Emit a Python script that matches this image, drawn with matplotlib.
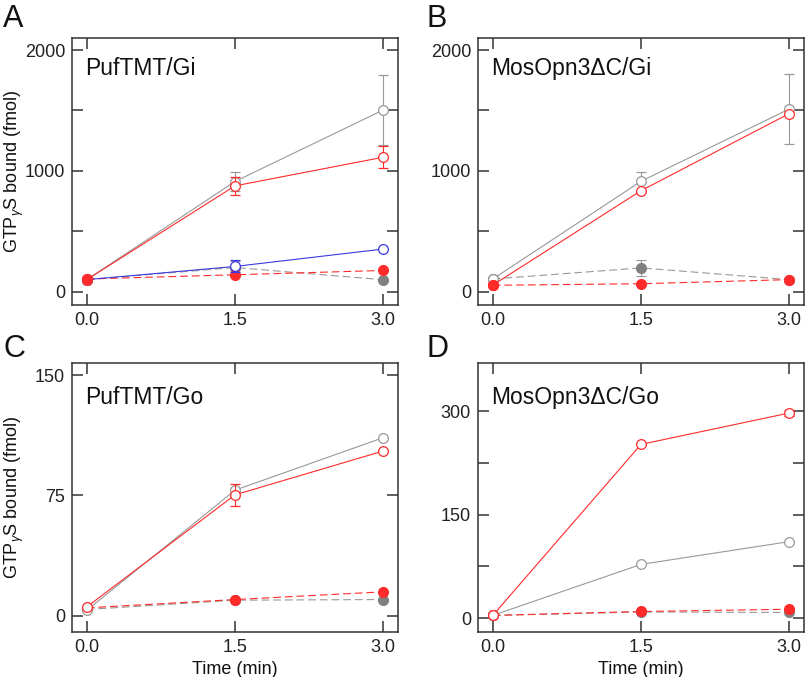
import matplotlib
matplotlib.use("Agg")
import matplotlib.pyplot as plt
from matplotlib.ticker import MultipleLocator

plt.rcParams['font.family'] = ['Liberation Sans', 'DejaVu Sans']
plt.rcParams['mathtext.fontset'] = 'custom'
plt.rcParams['mathtext.rm'] = 'Liberation Sans'
plt.rcParams['mathtext.it'] = 'Liberation Sans:italic'

time = [0.0, 1.5, 3.0]

# Panel A: PufTMT/Gi
a_gray_open = [100, 912, 1504]
a_gray_open_err = [0, 80, 290]
a_red_open = [100, 876, 1113]
a_red_open_err = [0, 75, 90]
a_blue_open = [100, 209, 353]
a_blue_open_err = [0, 50, 0]
a_gray_fill = [100, 200, 99]
a_gray_fill_err = [0, 50, 0]
a_red_fill = [105, 140, 176]

# Panel B: MosOpn3dC/Gi
b_gray_open = [105, 914, 1512]
b_gray_open_err = [0, 80, 290]
b_red_open = [55, 836, 1474]
b_gray_fill = [105, 197, 100]
b_gray_fill_err = [0, 65, 0]
b_red_fill = [53, 66, 100]

# Panel C: PufTMT/Go
c_gray_open = [3.5, 78.3, 111]
c_red_open = [5.6, 75.4, 102.7]
c_red_open_err = [0, 7, 0]
c_gray_fill = [4, 9.8, 10.2]
c_red_fill = [5, 10.2, 15]

# Panel D: MosOpn3dC/Go
d_red_open = [4, 252, 297.5]
d_red_open_err = [0, 0, 5]
d_gray_open = [4, 78, 111]
d_gray_fill = [4, 9, 8.3]
d_red_fill = [4, 9.7, 13]

titles = ['PufTMT/Gi', 'MosOpn3\u0394C/Gi', 'PufTMT/Go', 'MosOpn3\u0394C/Go']
letters = ['A', 'B', 'C', 'D']

RED = '#ff2a2a'
GRAY = '#999999'
GRAYF = '#808080'
BLUE = '#3a3ae0'
SPINE = '#333333'
MS = 7

fig = plt.figure(figsize=(8.07, 6.77), dpi=100)
boxes = [
    [0.0892, 0.5495, 0.4040, 0.3944],
    [0.5923, 0.5495, 0.4040, 0.3944],
    [0.0892, 0.0665, 0.4040, 0.3973],
    [0.5923, 0.0665, 0.4040, 0.3973],
]
axes = [fig.add_axes(b) for b in boxes]

def open_series(ax, y, color, err=None, z=3):
    ax.errorbar(time, y, yerr=err, color=color, lw=0.8, marker='o', ms=MS,
                mfc='white', mec=color, mew=0.9, capsize=3.3, elinewidth=0.8,
                capthick=0.8, zorder=z)

def fill_series(ax, y, color, lcolor, err=None, z=2):
    ax.errorbar(time, y, yerr=err, color=lcolor, lw=0.8, ls=(0, (7, 3.5)),
                marker='o', ms=MS, mfc=color, mec=color, capsize=3.3,
                elinewidth=0.8, capthick=0.8, zorder=z)

# A
ax = axes[0]
fill_series(ax, a_gray_fill, GRAYF, GRAY, a_gray_fill_err, z=2)
fill_series(ax, a_red_fill, RED, RED, None, z=2.5)
open_series(ax, a_blue_open, BLUE, a_blue_open_err, z=3)
open_series(ax, a_gray_open, GRAY, a_gray_open_err, z=3.1)
open_series(ax, a_red_open, RED, a_red_open_err, z=3.2)
ax.plot(time[:1], a_red_fill[:1], 'o', ms=MS, color=RED, zorder=4)

# B
ax = axes[1]
fill_series(ax, b_gray_fill, GRAYF, GRAY, b_gray_fill_err, z=2)
fill_series(ax, b_red_fill, RED, RED, None, z=2.5)
open_series(ax, b_gray_open, GRAY, b_gray_open_err, z=3)
open_series(ax, b_red_open, RED, None, z=3.1)
ax.plot(time[:1], b_red_fill[:1], 'o', ms=MS, color=RED, zorder=4)

# C
ax = axes[2]
fill_series(ax, c_gray_fill, GRAYF, GRAY, None, z=2)
fill_series(ax, c_red_fill, RED, RED, None, z=2.5)
open_series(ax, c_gray_open, GRAY, None, z=3)
open_series(ax, c_red_open, RED, c_red_open_err, z=3.1)

# D
ax = axes[3]
fill_series(ax, d_gray_fill, GRAYF, GRAY, None, z=2)
fill_series(ax, d_red_fill, RED, RED, None, z=2.5)
open_series(ax, d_gray_open, GRAY, None, z=3)
open_series(ax, d_red_open, RED, d_red_open_err, z=3.1)

ylims = [(-110, 2100), (-110, 2100), (-10, 157.5), (-20, 370)]
majors = [1000, 1000, 75, 150]
minors = [500, 500, 75, 75]

for i, ax in enumerate(axes):
    ax.set_xlim(-0.15, 3.15)
    ax.set_ylim(*ylims[i])
    ax.set_xticks(time)
    ax.set_xticklabels(['0.0', '1.5', '3.0'])
    ax.yaxis.set_major_locator(MultipleLocator(majors[i]))
    ax.yaxis.set_minor_locator(MultipleLocator(minors[i]))
    ax.tick_params(which='both', direction='in', length=8, width=1.1,
                   color=SPINE, top=True, right=True, labelsize=13,
                   labelcolor='#222222', pad=5)
    for s in ax.spines.values():
        s.set_color(SPINE)
        s.set_linewidth(1.1)
    ax.text(0.04, 0.885 if i < 2 else 0.87, titles[i], transform=ax.transAxes,
            fontsize=16.5, va='center', ha='left', color='#111111')

for ax in (axes[0], axes[2]):
    ax.set_ylabel(r'GTP$_{\gamma}$S bound (fmol)', fontsize=13,
                  va='center', color='#111111')
    ax.yaxis.set_label_coords(-0.178, 0.5)
axes[2].set_xlabel('Time (min)', fontsize=13, labelpad=4, color='#111111')
axes[3].set_xlabel('Time (min)', fontsize=13, labelpad=4, color='#111111')

letter_pos = [(0.004, 0.960), (0.529, 0.960), (0.004, 0.472), (0.529, 0.472)]
for (x, y), l in zip(letter_pos, letters):
    fig.text(x, y, l, fontsize=22, ha='left', va='baseline', color='#111111')

fig.savefig('out.png', dpi=100)
